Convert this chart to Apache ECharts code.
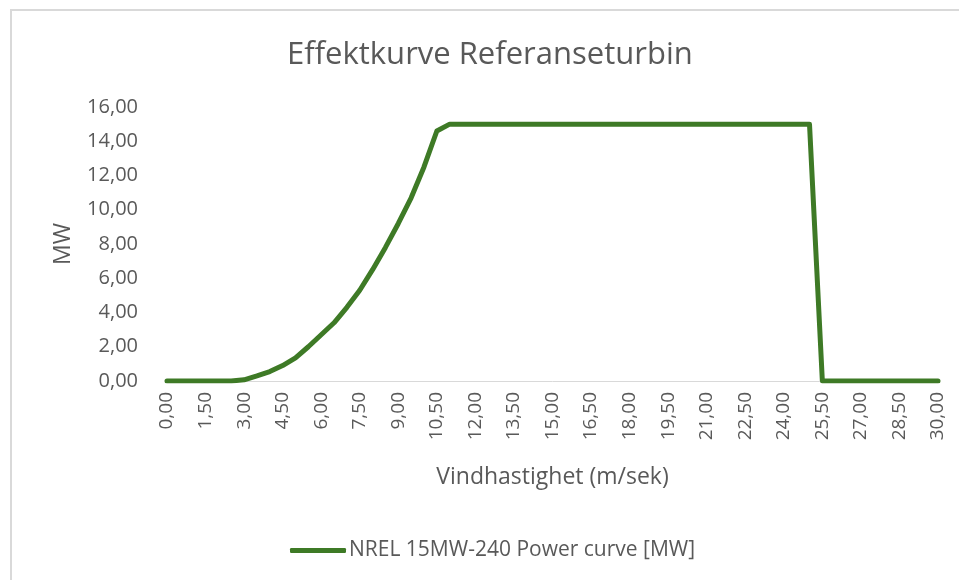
<!DOCTYPE html>
<html>
<head>
<meta charset="utf-8">
<title>Effektkurve Referanseturbin</title>
<script src="https://cdn.jsdelivr.net/npm/echarts@6/dist/echarts.min.js"></script>
<style>
    html, body { margin: 0; padding: 0; background: #fff; }
    #frame {
        position: absolute; left: 10px; top: 9px; width: 1000px; height: 600px;
        border-top: 2px solid #d9d9d9; border-left: 2px solid #d9d9d9;
    }
    #main { position: absolute; left: 0; top: 0; width: 959px; height: 580px; }
</style>
</head>
<body>
<div id="frame"></div>
<div id="main"></div>
<script>
// Wind speed categories (m/s)
var windSpeeds = [
    0, 0.5, 1, 1.5, 2, 2.5, 3, 3.5, 4, 4.5, 5, 5.5, 6, 6.5, 7, 7.5, 8, 8.5, 9, 9.5,
    10, 10.5, 11, 11.5, 12, 12.5, 13, 13.5, 14, 14.5, 15, 15.5, 16, 16.5, 17, 17.5,
    18, 18.5, 19, 19.5, 20, 20.5, 21, 21.5, 22, 22.5, 23, 23.5, 24, 24.5, 25, 25.5,
    26, 26.5, 27, 27.5, 28, 28.5, 29, 29.5, 30
];
// Power output (MW)
var powerMW = [
    0, 0, 0, 0, 0, 0, 0.07, 0.3, 0.55, 0.9, 1.35, 2.0, 2.7, 3.4, 4.3, 5.3, 6.5, 7.8, 9.2, 10.7,
    12.5, 14.6, 15, 15, 15, 15, 15, 15, 15, 15, 15, 15, 15, 15, 15, 15,
    15, 15, 15, 15, 15, 15, 15, 15, 15, 15, 15, 15, 15, 15, 15, 0,
    0, 0, 0, 0, 0, 0, 0, 0, 0
];
var seriesName = 'NREL 15MW-240 Power curve [MW]';

var textColor = '#595959';
var fontName = '"Open Sans", "Liberation Sans", sans-serif';

function fmt(v) {
    return Number(v).toFixed(2).replace('.', ',');
}

var myChart = echarts.init(document.getElementById('main'));
var option = {
    animation: false,
    textStyle: { fontFamily: fontName },
    title: {
        text: 'Effektkurve Referanseturbin',
        left: 287,
        top: 40,
        padding: 0,
        textStyle: { color: textColor, fontSize: 31, fontWeight: 'normal', fontFamily: fontName }
    },
    legend: {
        top: 535,
        left: 285,
        itemWidth: 56,
        itemHeight: 5,
        itemGap: 4,
        icon: 'roundRect',
        textStyle: { color: textColor, fontSize: 21, fontFamily: fontName, padding: [0, 0, 0, -2] },
        data: [seriesName]
    },
    grid: { left: 167, right: 21, top: 107, bottom: 199 },
    xAxis: {
        type: 'category',
        boundaryGap: false,
        data: windSpeeds,
        name: 'Vindhastighet (m/sek)',
        nameLocation: 'middle',
        nameGap: 85,
        nameTextStyle: { color: textColor, fontSize: 23, fontFamily: fontName },
        axisLine: { lineStyle: { color: '#d9d9d9', width: 1 } },
        axisTick: { show: false },
        axisLabel: {
            interval: 2,
            rotate: 90,
            margin: 11,
            color: textColor,
            fontSize: 19,
            fontFamily: fontName,
            formatter: function (v) { return fmt(v); }
        },
        splitLine: { show: false }
    },
    yAxis: {
        type: 'value',
        min: 0,
        max: 16,
        interval: 2,
        name: 'MW',
        nameLocation: 'middle',
        nameGap: 92,
        nameTextStyle: { color: textColor, fontSize: 23, fontFamily: fontName },
        axisLine: { show: false },
        axisTick: { show: false },
        axisLabel: {
            color: textColor,
            fontSize: 20,
            margin: 29,
            fontFamily: fontName,
            formatter: function (v) { return fmt(v); }
        },
        splitLine: { show: false }
    },
    series: [
        {
            name: seriesName,
            type: 'line',
            data: powerMW,
            symbol: 'none',
            smooth: false,
            lineStyle: { color: '#3e7a26', width: 5, cap: 'round', join: 'round' },
            itemStyle: { color: '#3e7a26' }
        }
    ]
};
myChart.setOption(option);
</script>
</body>
</html>
